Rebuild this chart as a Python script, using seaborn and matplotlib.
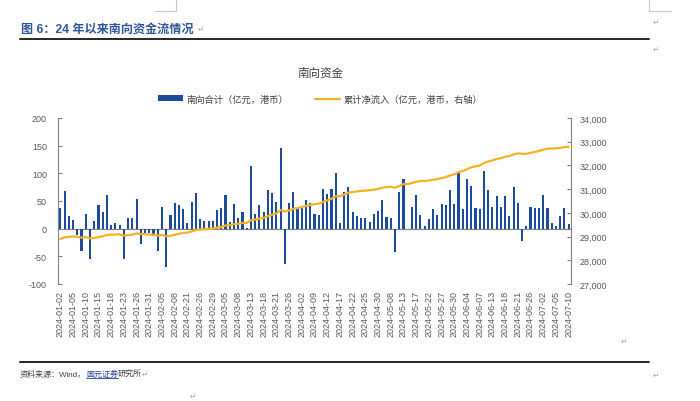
import numpy as np
import pandas as pd
import matplotlib
matplotlib.use('Agg')
import matplotlib.pyplot as plt
import seaborn as sns
from matplotlib.patches import Patch
from matplotlib.lines import Line2D
from matplotlib.ticker import FuncFormatter

# ---- data (Southbound trading days, 2024) ----
jan_days = [2, 3, 4, 5, 8, 9, 10, 11, 12, 15, 16, 17, 18, 19, 22, 23, 24, 25, 26, 29, 30, 31]
feb_days = [1, 2, 5, 6, 7, 8, 19, 20, 21, 22, 23, 26, 27, 28, 29]
mar_days = [1, 4, 5, 6, 7, 8, 11, 12, 13, 14, 15, 18, 19, 20, 21, 22, 25, 26, 27, 28]
apr_days = [2, 3, 8, 9, 10, 11, 12, 15, 16, 17, 18, 19, 22, 23, 24, 25, 26, 29, 30]
may_days = [6, 7, 8, 9, 10, 13, 14, 16, 17, 20, 21, 22, 23, 24, 27, 28, 29, 30, 31]
jun_days = [3, 4, 5, 6, 7, 11, 12, 13, 14, 17, 18, 19, 20, 21, 24, 25, 26, 27, 28]
jul_days = [2, 3, 4, 5, 8, 9, 10]
month_days = [jan_days, feb_days, mar_days, apr_days, may_days, jun_days, jul_days]
dates = [f"2024-{m + 1:02d}-{d:02d}" for m, days in enumerate(month_days) for d in days]

# 南向合计（亿元，港币）
flow = [38, 68, 22, 16, -11, -40, 26, -54, 14, 42,
        30, 60, 6, 11, 7, -54, 20, 19, 54, -27,
        -8, -8, -14, -40, 39, -69, 24, 46, 43, 35,
        11, 49, 65, 17, 13, 14, 13, 34, 37, 60,
        12, 45, 19, 30, 2, 114, 27, 42, 30, 70,
        65, 49, 146, -64, 46, 66, 37, 37, 51, 47,
        27, 24, 72, 63, 71, 100, 11, 67, 75, 30,
        23, 19, 19, 12, 27, 32, 51, 21, 19, -42,
        66, 89, -1, 40, 60, 25, 5, 17, 36, 25,
        45, 42, 69, 45, 100, 35, 89, 77, 37, 36,
        104, 69, 40, 59, 39, 59, 23, 76, 46, -22,
        4, 39, 37, 37, 60, 37, 10, 4, 23, 37, 8]

# 累计净流入（亿元，港币，右轴）
cumulative = [28898, 28966, 28988, 29004, 28993, 28953, 28979, 28925, 28939, 28981,
              29011, 29071, 29077, 29088, 29095, 29041, 29061, 29080, 29134, 29107,
              29099, 29091, 29077, 29037, 29076, 29007, 29031, 29077, 29120, 29155,
              29166, 29215, 29280, 29297, 29310, 29324, 29337, 29371, 29408, 29468,
              29480, 29525, 29544, 29574, 29576, 29690, 29717, 29759, 29789, 29859,
              29924, 29973, 30119, 30055, 30101, 30167, 30204, 30241, 30292, 30339,
              30366, 30390, 30462, 30525, 30596, 30696, 30707, 30774, 30849, 30879,
              30902, 30921, 30940, 30952, 30979, 31011, 31062, 31083, 31102, 31060,
              31126, 31215, 31214, 31254, 31314, 31339, 31344, 31361, 31397, 31422,
              31467, 31509, 31578, 31623, 31723, 31758, 31847, 31924, 31961, 31997,
              32101, 32170, 32210, 32269, 32308, 32367, 32390, 32466, 32512, 32490,
              32494, 32533, 32570, 32607, 32667, 32704, 32714, 32718, 32741, 32778, 32786]

left_ticks = [-100, -50, 0, 50, 100, 150, 200]
right_ticks = [27000, 28000, 29000, 30000, 31000, 32000, 33000, 34000]
legend_labels = ["南向合计（亿元，港币）", "累计净流入（亿元，港币，右轴）"]
chart_title = "南向资金"
doc_title = "图 6：24 年以来南向资金流情况"

# ---- style ----
BAR = "#1C4B9B"
LINE = "#F5B120"
GREY = "#595959"
SPINE = "#808080"
MARK = "#A6A6A6"

sns.set_style("white")
plt.rcParams['font.family'] = ['Liberation Sans', 'Noto Sans CJK SC', 'DejaVu Sans']
plt.rcParams['axes.unicode_minus'] = False

W, H = 700, 402
fig = plt.figure(figsize=(7, 4.02), dpi=100)

def fx(px):
    return px / W

def fy(py):
    return 1 - py / H

ax = fig.add_axes([fx(58), fy(285), (571 - 58) / W, (285 - 119) / H])
ax.set_facecolor('none')

n = len(dates)
df = pd.DataFrame({'date': dates, 'flow': flow})
ax.axhline(0, color=SPINE, lw=0.8, zorder=1)
sns.barplot(data=df, x='date', y='flow', color=BAR, saturation=1, width=0.5,
            errorbar=None, ax=ax, zorder=2, linewidth=0)

ax2 = ax.twinx()
ax2.set_facecolor('none')
line_df = pd.DataFrame({'pos': np.arange(n), 'cum': cumulative})
sns.lineplot(data=line_df, x='pos', y='cum', color=LINE, lw=1.6, ax=ax2)

ax.set_xlim(-0.55, n - 0.45)
ax2.set_xlim(-0.55, n - 0.45)
ax.set_ylim(-100, 200)
ax.set_yticks(left_ticks)
ax2.set_ylim(27000, 34000)
ax2.set_yticks(right_ticks)
ax2.yaxis.set_major_formatter(FuncFormatter(lambda v, p: f"{int(v):,}"))

ax.set_xticks(np.arange(0, n, 3))
ax.set_xticklabels(dates[::3], rotation=90)
for a in (ax, ax2):
    a.set_xlabel('')
    a.set_ylabel('')
    a.grid(False)

ax.tick_params(axis='x', length=0, pad=4, labelsize=6.5, labelcolor=GREY)
ax.tick_params(axis='y', direction='in', length=3, width=0.8, color=SPINE,
               pad=8, labelsize=6.5, labelcolor=GREY)
ax2.tick_params(axis='y', direction='in', length=3, width=0.8, color=SPINE,
                pad=6.5, labelsize=6.5, labelcolor=GREY)
ax2.tick_params(axis='x', length=0, labelbottom=False)

for s in ('top', 'bottom', 'right'):
    ax.spines[s].set_visible(False)
ax.spines['left'].set_color(SPINE)
ax.spines['left'].set_linewidth(0.8)
for s in ('top', 'bottom', 'left'):
    ax2.spines[s].set_visible(False)
ax2.spines['right'].set_color(SPINE)
ax2.spines['right'].set_linewidth(0.8)

# legend and chart title
handles = [Patch(facecolor=BAR, edgecolor='none'), Line2D([], [], color=LINE, lw=1.6)]
leg = fig.legend(handles=handles, labels=legend_labels, loc='center',
                 bbox_to_anchor=(fx(320), fy(100)), ncol=2, frameon=False,
                 fontsize=6.7, handlelength=2.7, handleheight=0.55,
                 columnspacing=2.9, handletextpad=0.35)
for t in leg.get_texts():
    t.set_color('#404040')
fig.text(fx(320), fy(74), chart_title, ha='center', va='center', fontsize=8.3, color='#404040')

# document frame
fig.text(fx(21), fy(30), doc_title, ha='left', va='center', fontsize=8.7,
         fontweight='bold', color='#2F5597')
fig.add_artist(Line2D([fx(20), fx(649)], [fy(40), fy(40)], color='#262626', lw=1.4))
fig.add_artist(Line2D([fx(20), fx(649)], [fy(363), fy(363)], color='#262626', lw=1.4))
fig.add_artist(Line2D([fx(176), fx(176), fx(155)], [fy(0), fy(12), fy(12)], color='#C8C8C8', lw=0.8))
fig.add_artist(Line2D([fx(649), fx(649), fx(671)], [fy(0), fy(12), fy(12)], color='#C8C8C8', lw=0.8))

for (px, py) in [(198, 30), (653, 23), (653, 50), (621, 342), (653, 376), (190, 397)]:
    fig.text(fx(px), fy(py), "↵", ha='left', va='center', fontsize=5.5, color=MARK)

t1 = fig.text(fx(20), fy(375), "资料来源：Wind，", ha='left', va='center', fontsize=5.8, color='#404040')
t2 = ax.annotate("国元证券", xy=(1, 0.5), xycoords=t1, ha='left', va='center',
                 fontsize=5.8, color='#1F3F99', annotation_clip=False)
t3 = ax.annotate("研究所", xy=(1, 0.5), xycoords=t2, ha='left', va='center',
                 fontsize=5.8, color='#404040', annotation_clip=False)
t4 = ax.annotate("↵", xy=(1, 0.5), xycoords=t3, ha='left', va='center',
                 fontsize=5.5, color=MARK, annotation_clip=False)

fig.canvas.draw()
bb = t2.get_window_extent(fig.canvas.get_renderer())
inv = fig.transFigure.inverted()
(x0, y0), (x1, _) = inv.transform([(bb.x0, bb.y0), (bb.x1, bb.y0)])
fig.add_artist(Line2D([x0, x1], [y0 + 0.001, y0 + 0.001], color='#1F3F99', lw=0.6))

fig.savefig("out.png", dpi=100)
